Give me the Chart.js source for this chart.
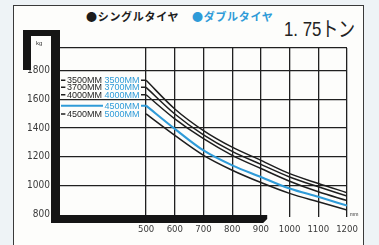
<!DOCTYPE html>
<html>
<head>
<meta charset="utf-8">
<script src="https://cdn.jsdelivr.net/npm/chart.js@4/dist/chart.umd.min.js"></script>
<style>
  html, body { margin: 0; padding: 0; }
  body { width: 379px; height: 245px; background: #eef3f6; position: relative; overflow: hidden; }
  #frame { position: absolute; left: 13px; top: 5px; width: 349px; height: 260px; border: 1.5px solid #3a3a3a; background: #fdfdfb; }
  #wrap { position: absolute; left: 0; top: 0; width: 379px; height: 245px; }
  .leg { position: absolute; top: 8px; font-family: 'Noto Sans CJK JP', sans-serif; font-weight: 700; font-size: 11px; line-height: 16px; white-space: nowrap; letter-spacing: 0.7px; }
  #cap { position: absolute; left: 284px; top: 14px; font-family: 'Liberation Sans', 'Noto Sans CJK JP', sans-serif; font-size: 21px; line-height: 26px; color: #222; white-space: nowrap; transform: scaleX(0.8); transform-origin: left top; }
  #cap .k { font-family: 'Noto Sans CJK JP', sans-serif; }
</style>
</head>
<body>
<div id="frame"></div>
<div class="leg" style="left:86px;color:#1c1c1c;">●シングルタイヤ</div>
<div class="leg" style="left:192px;color:#2f9bd8;">●ダブルタイヤ</div>
<div id="cap">1. 75<span class="k">トン</span></div>
<div id="wrap"><canvas id="c" width="379" height="245"></canvas></div>
<script>
// x: load center (mm); y: allowable load (kg)
const loadCenters = [500, 600, 700, 800, 900, 1000, 1100, 1200];
const cap3500 = [1734, 1534, 1383, 1267, 1175, 1082, 1013, 949];
const cap3700 = [1685, 1499, 1353, 1238, 1147, 1059, 990, 925];
const cap4000 = [1633, 1465, 1326, 1210, 1118, 1029, 955, 894];
const cap4500Double = [1557, 1395, 1244, 1140, 1059, 978, 920, 859];
const cap4500Single = [1499, 1349, 1210, 1106, 1020, 944, 885, 828];
const singleLabels = ['3500MM', '3700MM', '4000MM', '', '4500MM'];
const doubleLabels = ['3500MM', '3700MM', '4000MM', '4500MM', '5000MM'];
const yTickValues = [800, 1000, 1200, 1400, 1600, 1800];
const xTickValues = [500, 600, 700, 800, 900, 1000, 1100, 1200];

const BLACK = '#1e1e1e';
const BLUE = '#2f9bd8';
const seriesList = [cap3500, cap3700, cap4000, cap4500Double, cap4500Single];
const seriesColors = [BLACK, BLACK, BLACK, BLUE, BLACK];

const datasets = seriesList.map((arr, i) => ({
  data: arr.map((v, j) => ({ x: loadCenters[j], y: v })),
  borderColor: seriesColors[i],
  borderWidth: i === 3 ? 2.1 : 1.5,
  pointRadius: 0,
  fill: false,
  cubicInterpolationMode: 'monotone'
}));

const NARROW = "'Liberation Sans Narrow', 'DejaVu Sans Condensed', 'Liberation Sans', sans-serif";

const decor = {
  id: 'decor',
  afterDatasetsDraw(chart) {
    const ctx = chart.ctx;
    const xs = chart.scales.x, ys = chart.scales.y;
    const x0 = xs.getPixelForValue(200) + 1;
    const x1 = xs.getPixelForValue(500);
    const cBlack = xs.getPixelForValue(285);
    const cBlue = xs.getPixelForValue(416);
    ctx.save();
    ctx.font = "9px 'Liberation Sans', Arial, sans-serif";
    ctx.textBaseline = 'middle';
    ctx.textAlign = 'center';
    seriesList.forEach((arr, i) => {
      const y = ys.getPixelForValue(arr[0]);
      ctx.strokeStyle = i === 3 ? BLUE : BLACK;
      ctx.lineWidth = i === 3 ? 2 : 1.5;
      ctx.beginPath(); ctx.moveTo(x0, y); ctx.lineTo(x1, y); ctx.stroke();
      const parts = [[singleLabels[i], cBlack, BLACK], [doubleLabels[i], cBlue, BLUE]];
      parts.forEach(([t, cx, col], k) => {
        if (!t) return;
        const w = ctx.measureText(t).width;
        const extra = (i === 4 && k === 1) ? 4 : 0;
        ctx.fillStyle = '#fdfdfb';
        ctx.fillRect(cx - w / 2 - 1.5, y - 4, w + 3 + extra, 8);
        ctx.fillStyle = col;
        ctx.fillText(t, cx, y + 0.5);
      });
    });
    ctx.restore();
  },
  afterDraw(chart) {
    const ctx = chart.ctx;
    const a = chart.chartArea;
    const xs = chart.scales.x;
    ctx.save();
    ctx.fillStyle = '#151515';
    ctx.fillRect(23, 30, 37, 6);
    ctx.fillRect(23, 30, 8, 40);
    ctx.fillRect(a.left - 9, 30, 9, a.bottom + 9 - 30);
    const xe = xs.getPixelForValue(922);
    ctx.beginPath();
    ctx.moveTo(a.left - 9, a.bottom + 1);
    ctx.lineTo(xe, a.bottom + 1);
    ctx.lineTo(xe, a.bottom + 5);
    ctx.lineTo(xe - 4, a.bottom + 9);
    ctx.lineTo(a.left - 9, a.bottom + 9);
    ctx.closePath();
    ctx.fill();
    ctx.fillStyle = '#333';
    ctx.font = "6px 'Liberation Sans', sans-serif";
    ctx.textAlign = 'left';
    ctx.textBaseline = 'middle';
    ctx.fillText('kg', 36, 43);
    ctx.font = "5px 'Liberation Sans', sans-serif";
    ctx.fillText('mm', a.right + 3, a.bottom + 1);
    ctx.restore();
  }
};

new Chart(document.getElementById('c'), {
  type: 'line',
  data: { datasets },
  options: {
    responsive: false,
    animation: false,
    events: [],
    layout: { padding: { top: 48, right: 32, left: 0, bottom: 0 } },
    plugins: { legend: { display: false }, tooltip: { enabled: false }, title: { display: false } },
    scales: {
      x: {
        type: 'linear', min: 200, max: 1200,
        afterFit(s) { s.height = 31; },
        afterBuildTicks(s) { s.ticks = [200, 300, 400].concat(xTickValues).map(v => ({ value: v })); },
        border: { display: false },
        grid: {
          color: c => (c.tick && c.tick.value >= 500) ? '#202020' : 'rgba(0,0,0,0)',
          lineWidth: 1.3, drawTicks: true, tickLength: 3
        },
        ticks: {
          autoSkip: false, maxRotation: 0, padding: 7, color: '#3a3a3a',
          font: { family: NARROW, size: 9.5 },
          callback: v => (xTickValues.includes(v) ? String(v) : '')
        }
      },
      y: {
        type: 'linear', min: 800, max: 1960,
        afterFit(s) { s.width = 60; },
        afterBuildTicks(s) { s.ticks = yTickValues.concat([1960]).map(v => ({ value: v })); },
        border: { display: false },
        grid: {
          color: c => (c.tick && c.tick.value > 800) ? '#202020' : 'rgba(0,0,0,0)',
          lineWidth: 1.3, drawTicks: false
        },
        ticks: {
          padding: 10, color: '#3a3a3a',
          font: { family: NARROW, size: 10 },
          callback: v => (yTickValues.includes(v) ? String(v) : '')
        }
      }
    }
  },
  plugins: [decor]
});
</script>
</body>
</html>
